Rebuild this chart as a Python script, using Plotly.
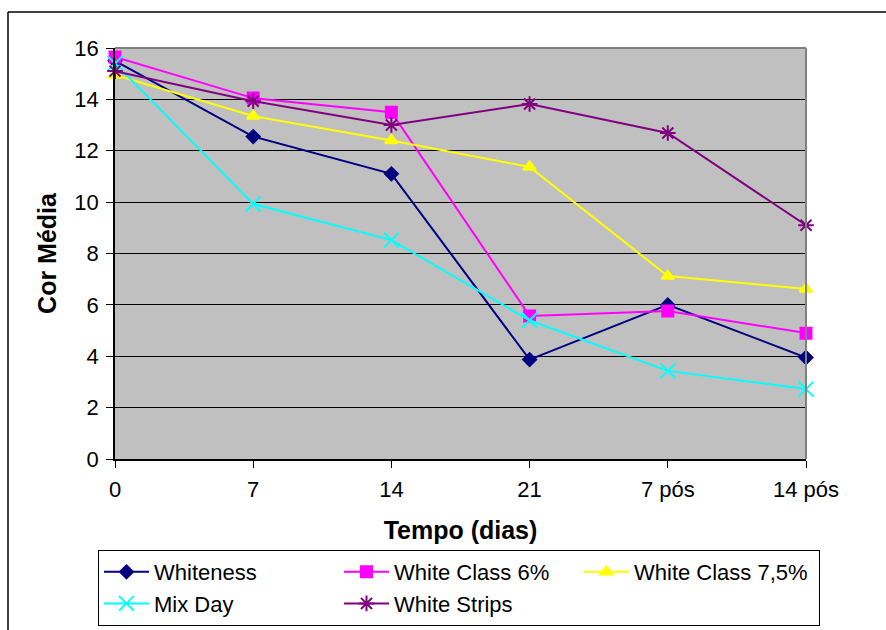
import plotly.graph_objects as go

categories = ["0", "7", "14", "21", "7 pós", "14 pós"]
whiteness = [15.5, 12.55, 11.1, 3.87, 6.0, 3.95]
white_class_6 = [15.65, 14.05, 13.5, 5.57, 5.76, 4.9]
white_class_75 = [14.95, 13.35, 12.4, 11.37, 7.12, 6.62]
mix_day = [15.4, 9.93, 8.52, 5.4, 3.43, 2.72]
white_strips = [15.1, 13.93, 13.0, 13.82, 12.69, 9.1]
y_ticks = [0, 2, 4, 6, 8, 10, 12, 14, 16]

xpos = list(range(len(categories)))

series = [
    ("Whiteness", whiteness, "#000080", "diamond", 10),
    ("White Class 6%", white_class_6, "#FF00FF", "square", 11),
    ("White Class 7,5%", white_class_75, "#FFFF00", "triangle-up", 11),
    ("Mix Day", mix_day, "#00FFFF", "x-thin-open", 15),
    ("White Strips", white_strips, "#800080", "asterisk-open", 13),
]

fig = go.Figure()
for name, vals, color, sym, size in series:
    fig.add_trace(go.Scatter(
        x=xpos, y=vals, name=name, mode="lines+markers",
        line=dict(color=color, width=2),
        marker=dict(symbol=sym, size=size, color=color,
                    line=dict(color=color, width=2)),
        cliponaxis=False,
    ))

W, H = 886, 630
ml, mr, mt, mb = 115, 80, 48, 171
pw, ph = W - ml - mr, H - mt - mb

def px_x(p):
    return (p - ml) / pw

def px_y(p):
    return (H - mb - p) / ph

font = "Liberation Sans, Arial, sans-serif"

fig.update_layout(
    width=W, height=H,
    margin=dict(l=ml, r=mr, t=mt, b=mb, pad=0, autoexpand=False),
    paper_bgcolor="white",
    plot_bgcolor="#C0C0C0",
    font=dict(family=font, size=22, color="black"),
    showlegend=True,
    legend=dict(
        orientation="h",
        x=px_x(98), y=px_y(550), xanchor="left", yanchor="top",
        bordercolor="black", borderwidth=1,
        bgcolor="white",
        font=dict(family=font, size=22, color="black"),
        entrywidth=180, entrywidthmode="pixels",
        itemwidth=45,
        traceorder="normal",
    ),
    xaxis=dict(
        range=[0, 5],
        tickmode="array", tickvals=xpos, ticktext=categories,
        showgrid=False, zeroline=False,
        showline=True, linecolor="black", linewidth=1.5,
        ticks="outside", ticklen=7, tickcolor="black", tickwidth=1,
        tickfont=dict(size=22), ticklabelstandoff=3,
        title=dict(text="<b>Tempo (dias)</b>", font=dict(size=25), standoff=20),
    ),
    yaxis=dict(
        range=[0, 16],
        tickmode="array", tickvals=y_ticks,
        showgrid=True, gridcolor="black", gridwidth=1,
        zeroline=False,
        showline=True, linecolor="black", linewidth=1.5,
        ticks="outside", ticklen=7, tickcolor="black", tickwidth=1,
        tickfont=dict(size=22), ticklabelstandoff=3,
        title=dict(text="<b>Cor Média</b>", font=dict(size=25), standoff=11),
    ),
    shapes=[
        dict(type="line", xref="paper", yref="paper", x0=0, x1=1, y0=1, y1=1,
             line=dict(color="#808080", width=2), layer="above"),
        dict(type="line", xref="paper", yref="paper", x0=1, x1=1, y0=0, y1=1,
             line=dict(color="#808080", width=2), layer="above"),
        dict(type="line", xref="paper", yref="paper",
             x0=px_x(8), x1=px_x(900), y0=px_y(12), y1=px_y(12),
             line=dict(color="black", width=1.5)),
        dict(type="line", xref="paper", yref="paper",
             x0=px_x(8), x1=px_x(8), y0=px_y(12), y1=px_y(650),
             line=dict(color="black", width=1.5)),
    ],
)

fig.write_html("out.html")
